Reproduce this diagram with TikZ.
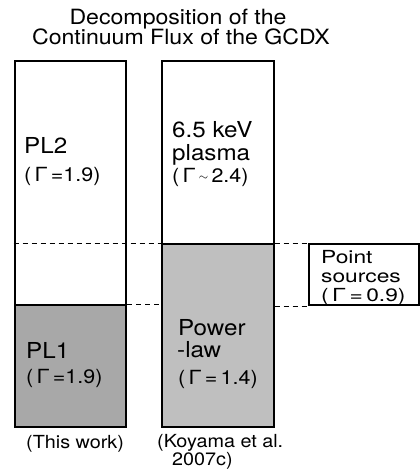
\documentclass[tikz,border=0pt]{standalone}
\usepackage{fontspec}
\setmainfont{TeX Gyre Heros}[FakeStretch=1.1]
\usetikzlibrary{positioning}
\definecolor{fillpl}{gray}{0.66}
\definecolor{fillpow}{gray}{0.75}

\begin{document}
\begin{tikzpicture}[x=1pt, y=-1pt]
    \tikzstyle{box}=[draw, line width=2pt, inner sep=0pt, anchor=north west]
    \tikzstyle{dashline}=[line width=1pt, dash pattern=on 5pt off 4pt]
    \tikzstyle{big}=[inner sep=0pt, anchor=base west, font=\fontsize{22}{22}\selectfont]
    \tikzstyle{gam}=[inner sep=0pt, anchor=base west, font=\fontsize{19.5}{19.5}\selectfont]
    \tikzstyle{small}=[inner sep=0pt, anchor=base west, font=\fontsize{18}{18}\selectfont]
    \useasboundingbox (0,0) rectangle (420,474);

    % Titulo
    \node[inner sep=0pt, anchor=base, font=\fontsize{21}{21}\selectfont] (t1) at (178,24) {Decomposition of the};
    \node[inner sep=0pt, anchor=base, font=\fontsize{21}{21}\selectfont] (t2) at (181,44) {Continuum Flux of the GCDX};

    % Caixas
    \node[box, fill=white, minimum width=111.3pt, minimum height=244pt] (lup) at (13.7,60.3) {};
    \node[box, fill=fillpl, minimum width=111.3pt, minimum height=121.7pt] (llow) at (13.7,304.3) {};
    \node[box, fill=white, minimum width=111.4pt, minimum height=183pt] (rup) at (161.3,60.3) {};
    \node[box, fill=fillpow, minimum width=111.4pt, minimum height=182.7pt] (rlow) at (161.3,243.3) {};
    \node[box, fill=white, minimum width=110.5pt, minimum height=60.7pt] (pts) at (307.8,243.3) {};

    % Linhas tracejadas
    \draw[dashline] (lup.west |- rlow.north) -- (rlow.north west);
    \draw[dashline] (rlow.north east) -- (pts.north west);
    \draw[dashline] (llow.north east) -- (rlow.west |- llow.north);
    \draw[dashline] (rlow.east |- pts.south) -- (pts.south west);

    % Rotulos
    \node[big] (pl2) at (24,153) {PL2};
    \node[gam] (g2) at (24,181) {(\,Γ\,=1.9)};
    \node[big] (pl1) at (26,358) {PL1};
    \node[gam] (g1) at (26,383) {(\,Γ\,=1.9)};
    \node[big] (kev) at (172,137) {6.5 keV};
    \node[big] (pla) at (172,160) {plasma};
    \node[gam] (gp) at (172,182) {(\,Γ\,\raisebox{1.5pt}{\fontsize{13}{13}\selectfont$\sim$}\,2.4)};
    \node[big] (pow) at (178,335) {Power};
    \node[big] (law) at (177,357) {-law};
    \node[gam] (gl) at (178,384) {(\,Γ\,=\,1.4)};
    \node[small] (pt1) at (321,263) {\scalebox{1.15}[1]{Point}};
    \node[small] (pt2) at (321,282) {\scalebox{1.15}[1]{sources}};
    \node[small] (pt3) at (321,301) {\scalebox{1.15}[1]{(\,Γ\,=\,0.9)}};

    % Referencias
    \node[small] (ref1) at (26,448) {(This work)};
    \node[small] (ref2) at (157,447) {(Koyama et al.};
    \node[small] (ref3) at (172,465) {2007c)};
\end{tikzpicture}
\end{document}
